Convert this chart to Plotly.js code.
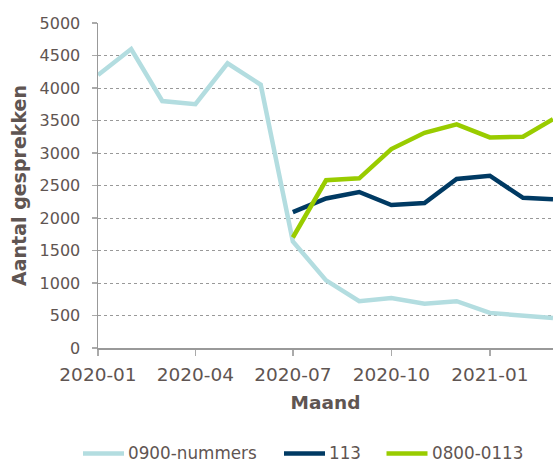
<!DOCTYPE html>
<html>
<head>
<meta charset="utf-8">
<script src="https://cdn.plot.ly/plotly-3.0.1.min.js"></script>
<style>html,body{margin:0;padding:0;background:#fff}#chart{width:553px;height:463px}</style>
</head>
<body>
<div id="chart"></div>
<script>
var months = ["2020-01-01","2020-02-01","2020-03-01","2020-04-01","2020-05-01","2020-06-01","2020-07-01","2020-08-01","2020-09-01","2020-10-01","2020-11-01","2020-12-01","2021-01-01","2021-02-01","2021-03-01"];
var months113 = months.slice(6);
var nummers0900 = [4200,4600,3800,3750,4380,4050,1640,1040,720,770,680,720,540,490,460];
var lijn113 = [2090,2300,2400,2200,2230,2600,2650,2310,2290];
var lijn0800 = [1700,2580,2610,3060,3310,3440,3240,3250,3520];
var tickVals = ["2020-01-01","2020-04-01","2020-07-01","2020-10-01","2021-01-01"];
var tickText = ["2020-01","2020-04","2020-07","2020-10","2021-01"];
var seriesNames = ["0900-nummers","113","0800-0113"];
var seriesColors = ["#b3dde0","#003a63","#99cc00"];

var txt = "#5f5552";
var font = "Verdana, 'DejaVu Sans', sans-serif";
var W = 553, H = 463, ML = 98, MR = 0, MT = 23, MB = 115;
var PW = W - ML - MR, PH = H - MT - MB;
function px(x) { return (x - ML) / PW; }
function py(y) { return (H - MB - y) / PH; }

var traces = [
  {x: months, y: nummers0900, name: seriesNames[0], type: "scatter", mode: "lines", line: {color: seriesColors[0], width: 4.5}},
  {x: months113, y: lijn113, name: seriesNames[1], type: "scatter", mode: "lines", line: {color: seriesColors[1], width: 4.5}},
  {x: months113, y: lijn0800, name: seriesNames[2], type: "scatter", mode: "lines", line: {color: seriesColors[2], width: 4.5}}
];

// custom legend (line sample + label), placed below the axis title
var legendLineStart = [81, 282, 384.5];
var legendLineLen = 45, legendY = 453;
var shapes = [], annotations = [];
for (var i = 0; i < seriesNames.length; i++) {
  shapes.push({type: "line", xref: "paper", yref: "paper",
    x0: px(legendLineStart[i] + 2), x1: px(legendLineStart[i] + legendLineLen - 2),
    y0: py(legendY + 0.5), y1: py(legendY + 0.5),
    line: {color: seriesColors[i], width: 4.5}});
  annotations.push({xref: "paper", yref: "paper", x: px(legendLineStart[i] + legendLineLen + 1), y: py(legendY - 0.5),
    xanchor: "left", yanchor: "middle", showarrow: false, text: seriesNames[i],
    font: {size: 16.8, color: txt, family: font}, borderpad: 0});
}

var layout = {
  width: W, height: H,
  margin: {l: ML, r: MR, t: MT, b: MB},
  paper_bgcolor: "#fff", plot_bgcolor: "#fff",
  font: {family: font, color: txt, size: 16},
  showlegend: false,
  shapes: shapes, annotations: annotations,
  xaxis: {
    type: "date", range: ["2020-01-01","2021-03-01"],
    tickvals: tickVals, ticktext: tickText,
    tickfont: {size: 18.5, color: txt},
    ticks: "outside", ticklen: 6, tickcolor: "#aaa", tickwidth: 1.5, ticklabelstandoff: 3,
    showline: true, linecolor: "#999", linewidth: 1.5,
    showgrid: false, zeroline: false,
    title: {text: "<b>Maand</b>", font: {size: 18.5, color: txt}, standoff: 12}
  },
  yaxis: {
    range: [0, 5000], tickvals: [0,500,1000,1500,2000,2500,3000,3500,4000,4500,5000],
    tickfont: {size: 16, color: txt},
    ticks: "outside", ticklen: 5, tickcolor: "#aaa", tickwidth: 1.5, ticklabelstandoff: 8,
    showline: true, linecolor: "#999", linewidth: 1.5,
    showgrid: true, gridcolor: "#999", griddash: "dot", gridwidth: 1,
    zeroline: false,
    title: {text: "<b>Aantal gesprekken</b>", font: {size: 19, color: txt}, standoff: 8}
  }
};
Plotly.newPlot("chart", traces, layout, {displayModeBar: false, staticPlot: true});
</script>
</body>
</html>
